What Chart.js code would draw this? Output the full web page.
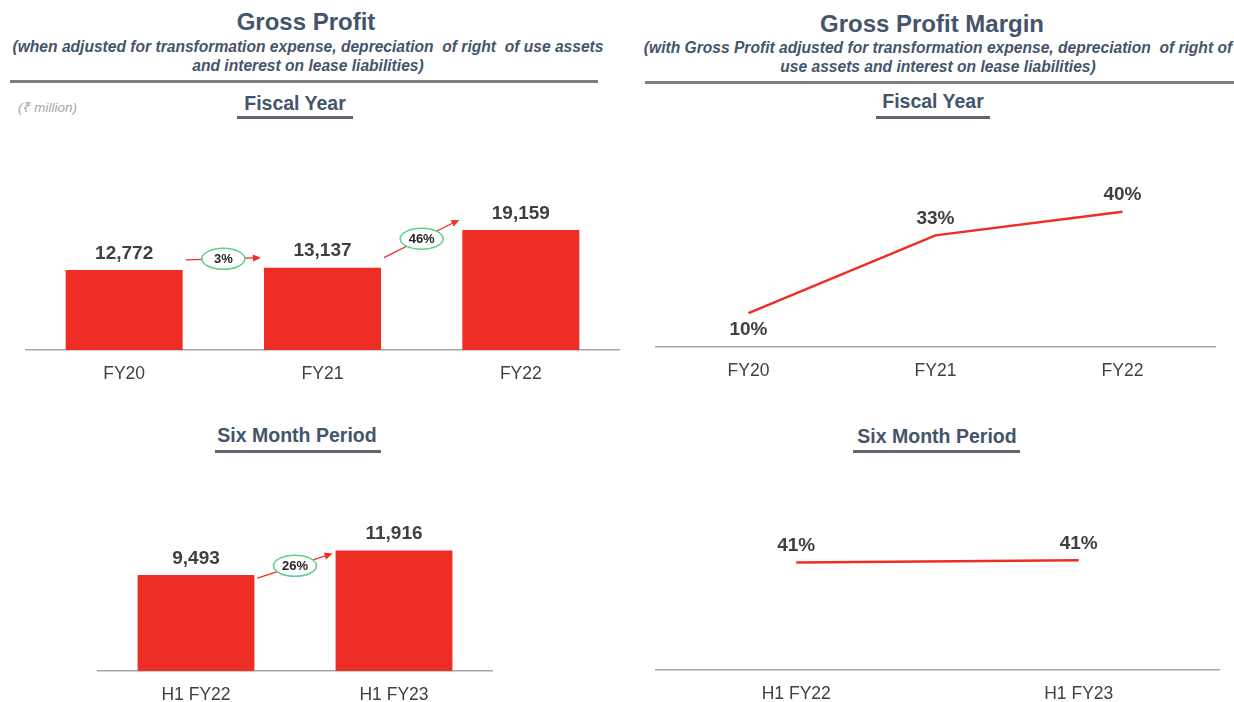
<!DOCTYPE html>
<html>
<head>
<meta charset="utf-8">
<script src="https://cdn.jsdelivr.net/npm/chart.js@4.4.0/dist/chart.umd.min.js"></script>
<style>
    body { margin: 0; width: 1234px; height: 702px; background: #fff; position: relative; overflow: hidden;
           font-family: Arial, 'Liberation Sans', sans-serif; }
    .abs { position: absolute; }
    .title { color: #44546a; font-weight: bold; font-size: 24px; line-height: 28px; text-align: center; }
    .sub { color: #44546a; font-weight: bold; font-style: italic; font-size: 15.6px; line-height: 19px; text-align: center; white-space: nowrap; }
    .rule { background: #7f7f7f; height: 3px; }
    .period { color: #44546a; font-weight: bold; font-size: 19.5px; line-height: 22px; text-align: center; }
    .period-rule { background: #5f6670; height: 3px; }
    .unit { color: #a6a6a6; font-style: italic; font-size: 13.5px; }
    canvas { position: absolute; }
</style>
</head>
<body>
<div class="abs title" style="left:0;top:8px;width:612px;">Gross Profit</div>
<div class="abs sub" style="left:0;top:37px;width:616px;">(when adjusted for transformation expense, depreciation&nbsp; of right&nbsp; of use assets<br>and interest on lease liabilities)</div>
<div class="abs rule" style="left:10px;top:80px;width:588px;"></div>
<div class="abs unit" style="left:18px;top:98px;">(₹ million)</div>
<div class="abs period" style="left:195px;top:92px;width:200px;">Fiscal Year</div>
<div class="abs period-rule" style="left:237px;top:116px;width:116px;"></div>
<div class="abs period" style="left:197px;top:424px;width:200px;">Six Month Period</div>
<div class="abs period-rule" style="left:215px;top:450px;width:166px;"></div>

<div class="abs title" style="left:632px;top:10px;width:600px;">Gross Profit Margin</div>
<div class="abs sub" style="left:630px;top:38px;width:616px;">(with Gross Profit adjusted for transformation expense, depreciation&nbsp; of right of<br>use assets and interest on lease liabilities)</div>
<div class="abs rule" style="left:645px;top:81px;width:592px;"></div>
<div class="abs period" style="left:833px;top:90px;width:200px;">Fiscal Year</div>
<div class="abs period-rule" style="left:876px;top:116px;width:114px;"></div>
<div class="abs period" style="left:837px;top:425px;width:200px;">Six Month Period</div>
<div class="abs period-rule" style="left:853px;top:450px;width:167px;"></div>

<canvas id="fyProfit" style="left:25px;top:140px;"></canvas>
<canvas id="fyMargin" style="left:655px;top:140px;"></canvas>
<canvas id="h1Profit" style="left:97px;top:480px;"></canvas>
<canvas id="h1Margin" style="left:655px;top:480px;"></canvas>

<script>
    // data
    const fyLabels = ['FY20', 'FY21', 'FY22'];
    const fyGrossProfit = [12772, 13137, 19159];
    const fyMargin = [10, 33, 40];

    const h1Labels = ['H1 FY22', 'H1 FY23'];
    const h1GrossProfit = [9493, 11916];
    const h1Margin = [40.6, 41.4];

    const RED = '#ee2d24';
    const TEXT = '#404040';
    const FONT = "Arial, 'Liberation Sans', sans-serif";

    // value labels above bars / next to line points
    const valueLabels = {
        id: 'valueLabels',
        afterDatasetsDraw(chart, args, opts) {
            const ctx = chart.ctx;
            const ds = chart.data.datasets[0];
            const meta = chart.getDatasetMeta(0);
            ctx.save();
            ctx.font = 'bold 19px ' + FONT;
            ctx.fillStyle = TEXT;
            ctx.textAlign = 'center';
            meta.data.forEach((el, i) => {
                const text = opts.format(ds.data[i]);
                if (opts.place && opts.place[i] === 'below') {
                    ctx.textBaseline = 'top';
                    ctx.fillText(text, el.x, el.y + opts.gap);
                } else {
                    ctx.textBaseline = 'bottom';
                    ctx.fillText(text, el.x, el.y - opts.gap);
                }
            });
            ctx.restore();
        },
    };

    // growth arrows with the green ellipse between bars
    const growthArrows = {
        id: 'growthArrows',
        afterDatasetsDraw(chart, args, opts) {
            if (!opts.show) {
                return;
            }
            const ctx = chart.ctx;
            const values = chart.data.datasets[0].data;
            const bars = chart.getDatasetMeta(0).data;
            ctx.save();
            for (let i = 0; i < bars.length - 1; i++) {
                const a = bars[i];
                const b = bars[i + 1];
                const x1 = a.x + a.width / 2 + 3;
                const y1 = a.y - opts.lift;
                const x2 = b.x - b.width / 2 - 3;
                const y2 = b.y - opts.lift;
                const ang = Math.atan2(y2 - y1, x2 - x1);

                ctx.strokeStyle = RED;
                ctx.fillStyle = RED;
                ctx.lineWidth = 1.2;
                ctx.beginPath();
                ctx.moveTo(x1, y1);
                ctx.lineTo(x2 - 6 * Math.cos(ang), y2 - 6 * Math.sin(ang));
                ctx.stroke();
                ctx.beginPath();
                ctx.moveTo(x2, y2);
                ctx.lineTo(x2 - 8 * Math.cos(ang) + 3.5 * Math.sin(ang), y2 - 8 * Math.sin(ang) - 3.5 * Math.cos(ang));
                ctx.lineTo(x2 - 8 * Math.cos(ang) - 3.5 * Math.sin(ang), y2 - 8 * Math.sin(ang) + 3.5 * Math.cos(ang));
                ctx.closePath();
                ctx.fill();

                const mx = (x1 + x2) / 2;
                const my = (y1 + y2) / 2;
                ctx.beginPath();
                ctx.ellipse(mx, my, 21.5, 10.5, 0, 0, Math.PI * 2);
                ctx.fillStyle = '#fff';
                ctx.fill();
                ctx.strokeStyle = '#5ccf8a';
                ctx.lineWidth = 1.5;
                ctx.stroke();

                const pct = Math.round((values[i + 1] / values[i] - 1) * 100);
                ctx.fillStyle = '#262626';
                ctx.font = 'bold 13px ' + FONT;
                ctx.textAlign = 'center';
                ctx.textBaseline = 'middle';
                ctx.fillText(pct + '%', mx, my + 1);
            }
            ctx.restore();
        },
    };

    function xAxis() {
        return {
            offset: true,
            grid: { display: false, drawTicks: false },
            border: { display: true, color: '#a6a6a6', width: 1.5 },
            ticks: { color: TEXT, padding: 14, font: { family: FONT, size: 17.5 } },
        };
    }

    function baseOptions(yMax, plugins) {
        return {
            responsive: false,
            animation: false,
            layout: { padding: 0 },
            plugins: Object.assign({
                legend: { display: false },
                tooltip: { enabled: false },
            }, plugins),
            scales: {
                x: xAxis(),
                y: { display: false, min: 0, max: yMax },
            },
        };
    }

    function makeBarChart(canvasId, width, height, labels, values, yMax, lift) {
        const canvas = document.getElementById(canvasId);
        canvas.width = width;
        canvas.height = height;
        new Chart(canvas.getContext('2d'), {
            type: 'bar',
            data: {
                labels: labels,
                datasets: [{
                    data: values,
                    backgroundColor: RED,
                    categoryPercentage: 1,
                    barPercentage: 0.59,
                }],
            },
            options: baseOptions(yMax, {
                valueLabels: { gap: 7, format: v => v.toLocaleString('en-US') },
                growthArrows: { show: true, lift: lift },
            }),
            plugins: [valueLabels, growthArrows],
        });
    }

    function makeLineChart(canvasId, width, height, labels, values, yMax, place) {
        const canvas = document.getElementById(canvasId);
        canvas.width = width;
        canvas.height = height;
        new Chart(canvas.getContext('2d'), {
            type: 'line',
            data: {
                labels: labels,
                datasets: [{
                    data: values,
                    borderColor: RED,
                    borderWidth: 2.5,
                    pointRadius: 0,
                    tension: 0,
                }],
            },
            options: baseOptions(yMax, {
                valueLabels: { gap: 7, place: place, format: v => Math.round(v) + '%' },
                growthArrows: { show: false },
            }),
            plugins: [valueLabels, growthArrows],
        });
    }

    document.addEventListener('DOMContentLoaded', () => {
        makeBarChart('fyProfit', 595, 259, fyLabels, fyGrossProfit, 33500, 10);
        makeLineChart('fyMargin', 561, 256, fyLabels, fyMargin, 61.2, ['below', 'above', 'above']);
        makeBarChart('h1Profit', 396, 240, h1Labels, h1GrossProfit, 18900, -3);
        makeLineChart('h1Margin', 565, 239, h1Labels, h1Margin, 71.7, ['above', 'above']);
    });
</script>
</body>
</html>
